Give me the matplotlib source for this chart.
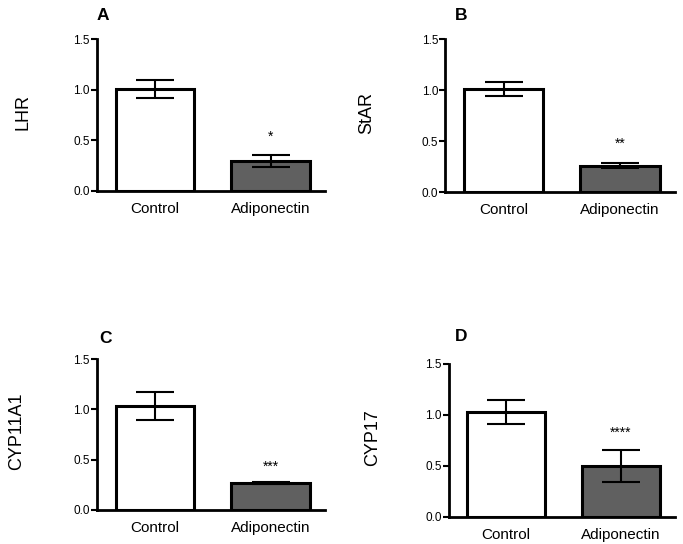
import matplotlib.pyplot as plt

plt.rcParams['font.family'] = ['Liberation Sans', 'DejaVu Sans']

groups = ['Control', 'Adiponectin']
genes = ['LHR', 'StAR', 'CYP11A1', 'CYP17']
letters = ['A', 'B', 'C', 'D']
stars = ['*', '**', '***', '****']

means = [[1.01, 0.30], [1.01, 0.26], [1.03, 0.27], [1.03, 0.50]]
errs = [[0.09, 0.06], [0.07, 0.02], [0.14, 0.01], [0.115, 0.16]]
star_y = [0.54, 0.47, 0.43, 0.82]

# axes boxes in figure fractions (left, bottom, width, height)
boxes = [
    [0.142, 0.649, 0.334, 0.279],
    [0.652, 0.647, 0.336, 0.281],
    [0.142, 0.0625, 0.334, 0.2775],
    [0.657, 0.050, 0.331, 0.281],
]
ylab_x = [0.034, 0.537, 0.025, 0.546]
letter_pos = [(0.142, 0.972), (0.666, 0.972), (0.146, 0.377), (0.666, 0.381)]

fig = plt.figure(figsize=(6.83, 5.44), dpi=100)

for i in range(4):
    ax = fig.add_axes(boxes[i])
    ax.bar([0, 1], means[i], width=0.68, color=['white', '#606060'],
           edgecolor='black', linewidth=2.2, zorder=2)
    ax.errorbar([0, 1], means[i], yerr=errs[i], fmt='none', ecolor='black',
                elinewidth=1.5, capsize=14, capthick=1.5, zorder=3)
    ax.text(1, star_y[i], stars[i], ha='center', va='center', fontsize=10)
    ax.set_xlim(-0.5, 1.47)
    ax.set_ylim(0, 1.5)
    ax.set_yticks([0, 0.5, 1.0, 1.5])
    ax.set_yticklabels(['0.0', '0.5', '1.0', '1.5'], fontsize=8.5)
    ax.set_xticks([0, 1])
    ax.set_xticklabels(groups, fontsize=11)
    ax.tick_params(axis='x', length=0, pad=8)
    ax.tick_params(axis='y', length=4, width=1.5, pad=1)
    for s in ['top', 'right']:
        ax.spines[s].set_visible(False)
    for s in ['left', 'bottom']:
        ax.spines[s].set_linewidth(2)
    fig.text(ylab_x[i], boxes[i][1] + boxes[i][3] * 0.52, genes[i],
             rotation=90, ha='center', va='center', fontsize=13)
    fig.text(letter_pos[i][0], letter_pos[i][1], letters[i],
             fontsize=12.5, fontweight='bold', ha='left', va='center')

fig.savefig('out.png', dpi=100)
